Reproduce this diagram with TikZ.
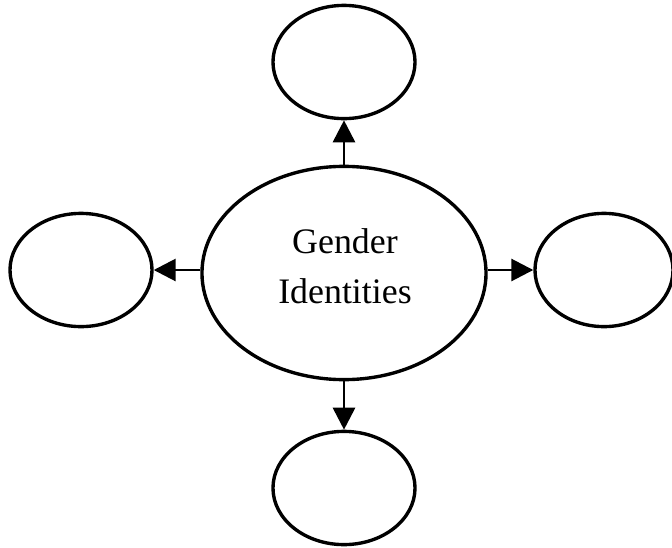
\documentclass[tikz,border=0pt]{standalone}
\usepackage{fontspec}
\setmainfont{Liberation Serif}
\usetikzlibrary{shapes.geometric,arrows.meta}
\begin{document}
\begin{tikzpicture}[
    x=0.025cm, y=-0.025cm,
    every node/.append style={font=\fontsize{25.5}{35.5}\selectfont},
    bubble/.style={ellipse, draw=black, line width=2.4pt, fill=white, inner sep=0pt, minimum width=3.55cm, minimum height=2.83cm},
    arr/.style={line width=2pt, -{Triangle[length=0.55cm, width=0.55cm]}}
]
    \useasboundingbox (0,0) rectangle (672,547);

    % centre
    \node[bubble, minimum width=7.1cm, minimum height=5.33cm] (ident) at (344,273) {};
    \node[align=center, inner sep=0pt] (identtxt) at (345,266) {Gender\\Identities};

    % outer ellipses
    \node[bubble] (idtop) at (344,62) {};
    \node[bubble] (idleft) at (81,270) {};
    \node[bubble, minimum width=3.45cm] (idright) at (604,270) {};
    \node[bubble] (idbottom) at (344,488) {};

    % arrows
    \draw[arr] (ident.north) -- (idtop.south);
    \draw[arr] (ident.west |- idleft) -- (idleft.east);
    \draw[arr] (ident.east |- idright) -- (idright.west);
    \draw[arr] (ident.south) -- (idbottom.north);

\end{tikzpicture}
\end{document}
